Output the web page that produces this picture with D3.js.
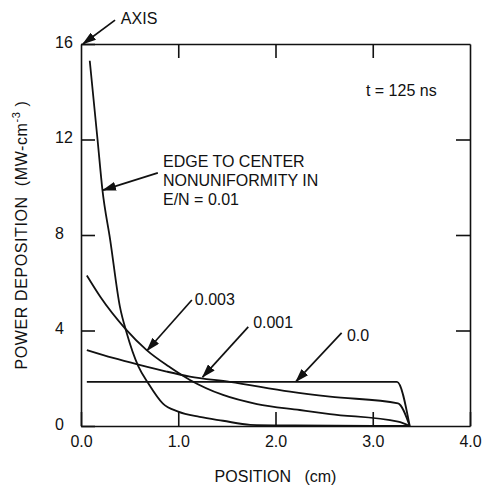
<!DOCTYPE html>
<html>
<head>
    <title>Power deposition</title>
    <script src="https://d3js.org/d3.v7.min.js"></script>
    <style>
        body { margin: 0; background: #fff; }
        text {
            font-family: "Liberation Sans", Arial, sans-serif;
            font-size: 16px;
            fill: #111;
        }
        .curve {
            fill: none;
            stroke: #111;
            stroke-width: 1.8;
        }
        .axis path,
        .axis line {
            fill: none;
            stroke: #111;
            stroke-width: 1.6;
        }
        .arrow {
            stroke: #111;
            stroke-width: 1.7;
        }
    </style>
</head>
<body>
    <svg id="chart"></svg>

    <script>
        // tick values / labels
        var xTicks = [0, 1, 2, 3, 4];
        var yTicks = [0, 4, 8, 12, 16];

        // E/N = 0.0
        var x00 = [0.06, 3.25, 3.38];
        var y00 = [1.85, 1.85, 0];
        // E/N = 0.001
        var x001 = [0.06, 0.33, 0.61, 0.88, 1.12, 1.53, 2.15, 2.56, 3.26, 3.38];
        var y001 = [3.18, 2.85, 2.55, 2.28, 2.07, 1.85, 1.44, 1.23, 0.95, 0];
        // E/N = 0.003
        var x003 = [0.06, 0.2, 0.45, 0.675, 0.9, 1.12, 1.46, 1.81, 2.25, 2.56, 3.26, 3.38];
        var y003 = [6.3, 5.4, 4.1, 3.18, 2.5, 1.93, 1.3, 0.92, 0.67, 0.5, 0.18, 0];
        // E/N = 0.01
        var x01 = [0.09, 0.17, 0.22, 0.30, 0.40, 0.47, 0.59, 0.69, 0.84, 1.0, 1.22, 1.46, 1.74, 2.2, 3.0, 3.38];
        var y01 = [15.3, 12.0, 9.9, 7.8, 5.0, 3.9, 2.5, 1.8, 0.95, 0.6, 0.38, 0.22, 0.05, 0.02, 0, 0];

        var width = 482, height = 487;

        var x = d3.scaleLinear().domain([0, 4]).range([81, 470]),
            y = d3.scaleLinear().domain([0, 16]).range([426, 44]);

        var svg = d3.select("#chart")
            .attr("width", width)
            .attr("height", height);

        svg.append("defs").append("marker")
            .attr("id", "head")
            .attr("viewBox", "0 0 14 9")
            .attr("refX", 13)
            .attr("refY", 4.5)
            .attr("markerWidth", 14)
            .attr("markerHeight", 9)
            .attr("markerUnits", "userSpaceOnUse")
            .attr("orient", "auto")
            .append("path")
            .attr("d", "M0,0 L14,4.5 L0,9 Z")
            .attr("fill", "#111");

        function zip(xs, ys) {
            return xs.map(function(d, i) { return [d, ys[i]]; });
        }

        var line = d3.line()
            .x(function(d) { return x(d[0]); })
            .y(function(d) { return y(d[1]); })
            .curve(d3.curveMonotoneX);

        [zip(x00, y00), zip(x001, y001), zip(x003, y003), zip(x01, y01)].forEach(function(pts) {
            svg.append("path")
                .attr("class", "curve")
                .attr("d", line(pts));
        });

        // axes, ticks pointing inward
        var gx = svg.append("g")
            .attr("class", "axis")
            .attr("transform", "translate(0," + y(0) + ")")
            .call(d3.axisBottom(x).tickValues(xTicks).tickSize(-14).tickSizeOuter(0)
                .tickPadding(10).tickFormat(d3.format(".1f")));

        var gy = svg.append("g")
            .attr("class", "axis")
            .attr("transform", "translate(" + x(0) + ",0)")
            .call(d3.axisLeft(y).tickValues(yTicks).tickSize(-14).tickSizeOuter(0)
                .tickFormat(d3.format("d")));

        svg.append("g")
            .attr("class", "axis")
            .attr("transform", "translate(0," + y(16) + ")")
            .call(d3.axisTop(x).tickValues([1, 2, 3]).tickSize(-14).tickSizeOuter(0).tickFormat(""));

        svg.append("g")
            .attr("class", "axis")
            .attr("transform", "translate(" + x(4) + ",0)")
            .call(d3.axisRight(y).tickValues([4, 8, 12]).tickSize(-14).tickSizeOuter(0).tickFormat(""));

        svg.selectAll(".axis").attr("font-size", null).attr("font-family", null);

        gy.selectAll("text")
            .attr("text-anchor", "start")
            .attr("x", -26)
            .attr("dy", "0.2em");

        // axis titles
        svg.append("text")
            .attr("x", (x(0) + x(4)) / 2)
            .attr("y", 482)
            .attr("text-anchor", "middle")
            .style("white-space", "pre")
            .text("POSITION   (cm)");

        var yt = svg.append("text")
            .attr("transform", "translate(27," + (y(0) + y(16)) / 2 + ") rotate(-90)")
            .attr("text-anchor", "middle")
            .attr("letter-spacing", "0.6px")
            .style("white-space", "pre");
        yt.append("tspan").text("POWER DEPOSITION  (MW-cm");
        yt.append("tspan").attr("dy", -7).style("font-size", "11px").text("-3");
        yt.append("tspan").attr("dy", 7).text(" )");

        // annotations (data coordinates)
        var arrows = [
            [[0.35, 17.0], [0.02, 16.0]],
            [[0.79, 10.6], [0.226, 9.88]],
            [[1.14, 5.28], [0.68, 3.16]],
            [[1.72, 4.15], [1.25, 2.05]],
            [[2.68, 3.9], [2.21, 1.86]]
        ];
        arrows.forEach(function(a) {
            svg.append("line")
                .attr("class", "arrow")
                .attr("x1", x(a[0][0])).attr("y1", y(a[0][1]))
                .attr("x2", x(a[1][0])).attr("y2", y(a[1][1]))
                .attr("marker-end", "url(#head)");
        });

        var labels = [
            ["AXIS", 0.41, 16.84],
            ["t = 125 ns", 2.93, 13.82],
            ["EDGE TO CENTER", 0.843, 10.85],
            ["NONUNIFORMITY IN", 0.843, 10.05],
            ["E/N = 0.01", 0.843, 9.26],
            ["0.003", 1.17, 5.07],
            ["0.001", 1.77, 4.10],
            ["0.0", 2.735, 3.56]
        ];
        labels.forEach(function(l) {
            svg.append("text")
                .attr("x", x(l[1]))
                .attr("y", y(l[2]))
                .text(l[0]);
        });
    </script>
</body>
</html>
